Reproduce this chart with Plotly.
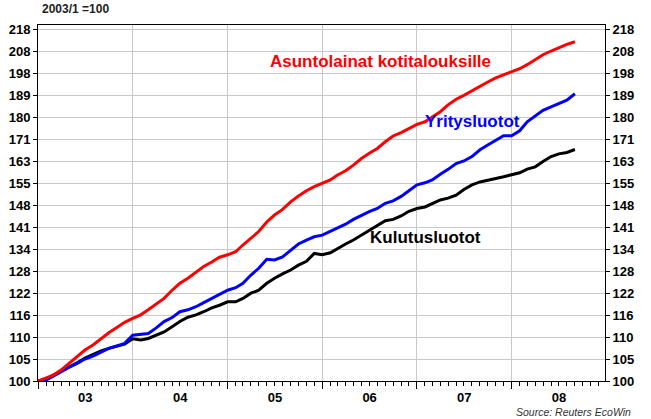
import pandas as pd
import plotly.graph_objects as go

# Monthly index, 2003/1 = 100
months = pd.date_range("2003-01-01", periods=69, freq="MS")

asuntolainat = [
    100.0, 100.6, 101.3, 102.5, 104.0, 105.5, 107.1, 108.3, 109.9, 111.3, 112.6, 113.9,
    114.9, 115.8, 117.1, 118.5, 120.1, 122.3, 124.2, 125.6, 127.4, 128.9, 130.2, 131.6,
    132.3, 133.2, 135.2, 137.2, 139.3, 142.3, 144.5, 146.3, 148.8, 150.7, 152.5, 153.9,
    155.0, 156.2, 157.9, 159.4, 161.4, 163.8, 165.7, 167.5, 170.0, 172.2, 173.5, 175.0,
    176.7, 177.7, 179.5, 181.7, 184.5, 186.8, 188.4, 190.4, 192.2, 194.1, 195.9, 197.3,
    198.5, 199.9, 201.7, 203.9, 206.2, 207.9, 209.5, 211.0, 212.2,
]

yritysluotot = [
    100.0, 100.2, 101.1, 102.2, 103.1, 104.0, 105.0, 105.7, 106.7, 107.5, 108.1, 108.7,
    110.7, 110.9, 111.1, 112.5, 114.1, 115.1, 116.6, 117.1, 117.9, 119.0, 120.1, 121.3,
    122.3, 123.0, 124.2, 126.5, 128.4, 131.0, 130.8, 131.7, 133.7, 135.5, 136.7, 137.7,
    138.2, 139.3, 140.3, 141.6, 143.1, 144.5, 145.6, 146.6, 148.3, 149.1, 150.6, 152.5,
    154.5, 155.2, 156.2, 158.2, 159.9, 162.0, 162.9, 164.5, 167.0, 168.8, 170.6, 172.3,
    172.3, 174.2, 177.7, 180.2, 182.3, 183.7, 184.9, 186.4, 189.1,
]

kulutusluotot = [
    100.0, 100.4, 101.3, 102.2, 103.2, 104.1, 105.2, 106.1, 106.9, 107.5, 108.1, 108.5,
    109.8, 109.5, 109.9, 110.7, 111.5, 112.8, 114.1, 115.2, 115.8, 116.6, 117.6, 118.3,
    119.2, 119.2, 120.1, 121.5, 122.3, 124.2, 125.6, 126.8, 127.9, 129.3, 130.4, 132.7,
    132.3, 132.9, 134.2, 135.5, 136.7, 138.2, 139.7, 141.0, 142.7, 143.1, 144.2, 145.7,
    146.6, 147.1, 148.1, 149.4, 150.0, 151.0, 152.9, 154.5, 155.5, 156.2, 156.7, 157.3,
    157.9, 158.7, 160.0, 160.8, 162.7, 164.5, 165.5, 166.0, 167.1,
]

# Y tick positions (5 % steps) and their printed labels
y_tickvals = [100, 105, 110.25, 115.76, 121.55, 127.63, 134.01, 140.71, 147.75,
              155.13, 162.89, 171.03, 179.59, 188.56, 197.99, 207.89, 218.29]
y_ticktext = ["100", "105", "110", "116", "122", "128", "134", "141", "148",
              "155", "163", "171", "180", "189", "198", "208", "218"]

FONT = "Arial, Liberation Sans, sans-serif"
GRID = "#c8c8c8"

fig = go.Figure()
fig.add_trace(go.Scatter(x=months, y=kulutusluotot, mode="lines",
                         line=dict(color="#000000", width=3), name="Kulutusluotot"))
fig.add_trace(go.Scatter(x=months, y=yritysluotot, mode="lines",
                         line=dict(color="#0000ff", width=3), name="Yritysluotot"))
fig.add_trace(go.Scatter(x=months, y=asuntolainat, mode="lines",
                         line=dict(color="#ff0000", width=3), name="Asuntolainat kotitalouksille"))
# invisible trace to activate the right-hand axis
fig.add_trace(go.Scatter(x=months, y=asuntolainat, mode="lines", yaxis="y2",
                         line=dict(color="rgba(0,0,0,0)", width=0), hoverinfo="skip",
                         showlegend=False))

yrange = [2.0, 2.3429]
common_y = dict(
    type="log", range=yrange, tickmode="array", tickvals=y_tickvals, ticktext=y_ticktext,
    ticks="outside", ticklen=4, tickcolor="black", showline=True, linecolor="black",
    linewidth=1, tickfont=dict(family=FONT, size=13, color="black", weight="bold"),
    zeroline=False, automargin=False,
)

fig.update_layout(
    template="none",
    width=651, height=419,
    margin=dict(l=38, r=46, t=25, b=38, autoexpand=False),
    paper_bgcolor="white", plot_bgcolor="white",
    showlegend=False,
    xaxis=dict(
        type="date", range=["2003-01-01", "2008-12-26"],
        dtick="M12", tick0="2003-01-01", tickformat="%y", ticklabelmode="period",
        ticks="outside", ticklen=7, tickcolor="black", ticklabelstandoff=-3,
        showgrid=True, gridcolor=GRID, gridwidth=1,
        showline=True, linecolor="black", linewidth=1, mirror=True,
        tickfont=dict(family=FONT, size=13, color="black", weight="bold"),
        minor=dict(dtick="M1", tick0="2003-01-01", ticks="outside", ticklen=4,
                   tickcolor="black", showgrid=False),
        zeroline=False, automargin=False,
    ),
    yaxis=dict(**common_y, showgrid=True, gridcolor=GRID, gridwidth=1, side="left"),
    yaxis2=dict(**common_y, showgrid=False, overlaying="y", side="right"),
    annotations=[
        dict(text="<b>Asuntolainat kotitalouksille</b>", xref="paper", yref="paper",
             x=0.604, y=0.897, showarrow=False, xanchor="center", yanchor="middle",
             font=dict(family=FONT, size=17, color="#ff0000")),
        dict(text="<b>Yritysluotot</b>", xref="paper", yref="paper",
             x=0.766, y=0.728, showarrow=False, xanchor="center", yanchor="middle",
             font=dict(family=FONT, size=17, color="#0000ff")),
        dict(text="<b>Kulutusluotot</b>", xref="paper", yref="paper",
             x=0.684, y=0.402, showarrow=False, xanchor="center", yanchor="middle",
             font=dict(family=FONT, size=17, color="#000000")),
        dict(text="<b>2003/1 =100</b>", xref="paper", yref="paper",
             x=0.0035, y=1.045, showarrow=False, xanchor="left", yanchor="middle",
             font=dict(family=FONT, size=12, color="#222222")),
        dict(text="<i>Source: Reuters EcoWin</i>", xref="paper", yref="paper",
             x=1.049, y=-0.0865, showarrow=False, xanchor="right", yanchor="middle",
             font=dict(family=FONT, size=10.5, color="#333333")),
    ],
)

fig.write_html(
    "out.html",
    config={"displayModeBar": False},
    post_script="document.body.style.margin='0';document.body.style.padding='0';",
)
